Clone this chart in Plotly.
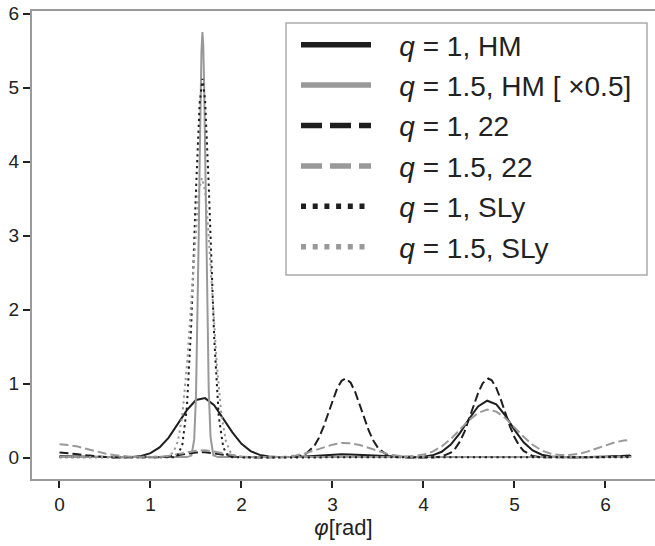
import plotly.graph_objects as go

# ---------------- data ----------------
labels = ["<i>q</i> = 1, HM", "<i>q</i> = 1.5, HM [ ×0.5]", "<i>q</i> = 1, 22",
          "<i>q</i> = 1.5, 22", "<i>q</i> = 1, SLy", "<i>q</i> = 1.5, SLy"]

phi_hm1 = [0.0, 0.1, 0.2, 0.3, 0.4, 0.5, 0.6, 0.7, 0.8, 0.9, 1.0, 1.1, 1.2, 1.3, 1.4, 1.5,
           1.6, 1.7, 1.8, 1.9, 2.0, 2.1, 2.2, 2.3, 2.4, 2.5, 2.6, 2.7, 2.8, 2.9, 3.0, 3.1,
           3.2, 3.3, 3.4, 3.5, 3.6, 3.7, 3.8, 3.9, 4.0, 4.1, 4.2, 4.3, 4.4, 4.5, 4.6, 4.7,
           4.8, 4.9, 5.0, 5.1, 5.2, 5.3, 5.4, 5.5, 5.6, 5.7, 5.8, 5.9, 6.0, 6.1, 6.2, 6.283]
val_hm1 = [0.020, 0.018, 0.014, 0.010, 0.007, 0.005, 0.004, 0.005, 0.010, 0.024, 0.062, 0.139,
           0.272, 0.452, 0.642, 0.780, 0.805, 0.710, 0.533, 0.342, 0.188, 0.089, 0.038, 0.016,
           0.008, 0.007, 0.010, 0.016, 0.025, 0.034, 0.041, 0.045, 0.044, 0.039, 0.031, 0.022,
           0.014, 0.009, 0.006, 0.006, 0.012, 0.032, 0.080, 0.178, 0.332, 0.523, 0.692, 0.770,
           0.721, 0.568, 0.376, 0.209, 0.098, 0.040, 0.015, 0.007, 0.005, 0.007, 0.010, 0.013,
           0.016, 0.019, 0.021, 0.022]

phi_hm15 = [0.0, 0.5, 1.0, 1.4, 1.45, 1.48, 1.50, 1.52, 1.53, 1.54, 1.55, 1.56, 1.571, 1.58,
            1.59, 1.60, 1.61, 1.62, 1.64, 1.66, 1.69, 1.74, 2.5, 3.5, 4.5, 5.5, 6.283]
val_hm15 = [0.008, 0.008, 0.008, 0.008, 0.028, 0.244, 0.830, 2.12, 3.00, 3.97, 4.85, 5.49, 5.75,
            5.57, 5.00, 4.16, 3.20, 2.28, 0.92, 0.28, 0.033, 0.008, 0.008, 0.008, 0.008, 0.008,
            0.008]

phi_221 = [0.0, 0.1, 0.2, 0.3, 0.4, 0.5, 0.6, 0.8, 1.0, 1.1, 1.2, 1.3, 1.4, 1.5, 1.6, 1.7, 1.8,
           1.9, 2.0, 2.2, 2.4, 2.5, 2.6, 2.7, 2.8, 2.85, 2.9, 2.95, 3.0, 3.05, 3.1, 3.142, 3.2,
           3.25, 3.3, 3.35, 3.4, 3.45, 3.5, 3.6, 3.7, 3.8, 4.0, 4.1, 4.2, 4.3, 4.35, 4.4, 4.45,
           4.5, 4.55, 4.6, 4.65, 4.712, 4.75, 4.8, 4.85, 4.9, 4.95, 5.0, 5.05, 5.1, 5.2, 5.3,
           5.5, 5.8, 5.9, 6.0, 6.1, 6.2, 6.283]
val_221 = [0.070, 0.062, 0.047, 0.032, 0.018, 0.009, 0.004, 0.002, 0.002, 0.006, 0.014, 0.030,
           0.052, 0.071, 0.074, 0.061, 0.039, 0.019, 0.008, 0.003, 0.002, 0.003, 0.010, 0.045,
           0.160, 0.267, 0.412, 0.587, 0.770, 0.932, 1.039, 1.070, 1.013, 0.885, 0.712, 0.528,
           0.361, 0.227, 0.132, 0.036, 0.008, 0.003, 0.002, 0.004, 0.016, 0.067, 0.126, 0.218,
           0.349, 0.514, 0.697, 0.872, 1.005, 1.070, 1.045, 0.943, 0.784, 0.601, 0.424, 0.276,
           0.166, 0.092, 0.022, 0.005, 0.002, 0.003, 0.006, 0.011, 0.017, 0.024, 0.030]

phi_2215 = [0.0, 0.1, 0.2, 0.3, 0.4, 0.5, 0.6, 0.7, 0.8, 0.9, 1.0, 1.1, 1.2, 1.3, 1.4, 1.5,
            1.6, 1.7, 1.8, 1.9, 2.0, 2.1, 2.2, 2.3, 2.4, 2.5, 2.6, 2.7, 2.8, 2.9, 3.0, 3.1,
            3.2, 3.3, 3.4, 3.5, 3.6, 3.7, 3.8, 3.9, 4.0, 4.1, 4.2, 4.3, 4.4, 4.5, 4.6, 4.7,
            4.8, 4.9, 5.0, 5.1, 5.2, 5.3, 5.4, 5.5, 5.6, 5.7, 5.8, 5.9, 6.0, 6.1, 6.2, 6.283]
val_2215 = [0.180, 0.172, 0.150, 0.119, 0.086, 0.057, 0.035, 0.019, 0.010, 0.006, 0.006, 0.012,
            0.025, 0.047, 0.074, 0.095, 0.099, 0.084, 0.058, 0.032, 0.015, 0.007, 0.004, 0.004,
            0.007, 0.015, 0.031, 0.058, 0.095, 0.138, 0.176, 0.198, 0.196, 0.171, 0.131, 0.088,
            0.053, 0.029, 0.017, 0.022, 0.042, 0.082, 0.152, 0.253, 0.379, 0.506, 0.606, 0.650,
            0.623, 0.534, 0.410, 0.282, 0.174, 0.097, 0.054, 0.035, 0.036, 0.051, 0.082, 0.122,
            0.166, 0.206, 0.233, 0.240]

phi_sly1 = [0.0, 0.5, 1.0, 1.2, 1.25, 1.3, 1.35, 1.4, 1.45, 1.5, 1.54, 1.571, 1.6, 1.64, 1.7,
            1.75, 1.8, 1.85, 1.9, 2.0, 3.0, 4.0, 5.0, 6.283]
val_sly1 = [0.005, 0.004, 0.004, 0.005, 0.006, 0.034, 0.176, 0.680, 1.86, 3.61, 4.79, 5.12,
            4.83, 3.68, 1.62, 0.557, 0.138, 0.026, 0.006, 0.004, 0.005, 0.004, 0.005, 0.005]

phi_sly15 = [0.0, 0.5, 1.0, 1.1, 1.15, 1.2, 1.25, 1.3, 1.35, 1.4, 1.45, 1.5, 1.53, 1.565, 1.6,
             1.63, 1.68, 1.73, 1.78, 1.83, 1.88, 1.93, 1.98, 2.1, 3.0, 4.0, 5.0, 6.283]
val_sly15 = [0.010, 0.010, 0.010, 0.010, 0.012, 0.024, 0.072, 0.217, 0.57, 1.24, 2.19, 3.17,
             3.60, 3.78, 3.60, 3.17, 2.19, 1.24, 0.57, 0.217, 0.072, 0.024, 0.012, 0.010, 0.010,
             0.010, 0.010, 0.010]

x_ticks = [0, 1, 2, 3, 4, 5, 6]
y_ticks = [0, 1, 2, 3, 4, 5, 6]

# ---------------- styling ----------------
BLACK = "#1e1e1e"
GRAY = "#999999"
FONT = "Liberation Sans, Arial, sans-serif"
W, H = 655, 546
ML, MR, MT, MB = 32, 0, 11, 67
PW, PH = W - ML - MR, H - MT - MB


def px_x(p):
    return (p - ML) / PW


def px_y(p):
    return (H - MB - p) / PH


series = [
    (phi_hm1, val_hm1, BLACK, "solid", "solid"),
    (phi_hm15, val_hm15, GRAY, "solid", "solid"),
    (phi_221, val_221, BLACK, "9px,4px", "21px,8px"),
    (phi_2215, val_2215, GRAY, "9px,4px", "21px,8px"),
    (phi_sly1, val_sly1, BLACK, "2.3px,3.6px", "5px,6.7px"),
    (phi_sly15, val_sly15, GRAY, "2.3px,3.6px", "5px,6.7px"),
]

fig = go.Figure()
for (xs, ys, col, dash, _), name in zip(series, labels):
    fig.add_trace(go.Scatter(x=xs, y=ys, mode="lines", name=name, showlegend=False,
                             line=dict(color=col, width=2, dash=dash)))

# legend entries (thicker sample lines, as in the reference)
GAP = "\u00a0\u00a0\u00a0"
for i, ((xs, ys, col, _, ldash), name) in enumerate(zip(series, labels)):
    fig.add_trace(go.Scatter(x=[None], y=[None], mode="lines", name=GAP + name,
                             legendgroup=f"g{i}",
                             line=dict(color=col, width=5.5, dash=ldash)))

# legend frame
fig.add_shape(type="rect", xref="paper", yref="paper",
              x0=px_x(286), x1=px_x(647), y0=px_y(275), y1=px_y(23),
              line=dict(color="#aaaaaa", width=1.5), fillcolor="white", layer="below")

fig.update_layout(
    width=W, height=H,
    margin=dict(l=ML, r=MR, t=MT, b=MB),
    paper_bgcolor="white", plot_bgcolor="white",
    font=dict(family=FONT, color="#222222"),
    showlegend=True,
    legend=dict(x=px_x(296), xanchor="left", y=px_y(20), yanchor="top",
                bgcolor="rgba(0,0,0,0)", borderwidth=0,
                font=dict(size=28, family=FONT, color="#222222"),
                itemwidth=70, tracegroupgap=1, traceorder="grouped"),
)
fig.update_xaxes(range=[-0.302, 6.544], tickvals=x_ticks, ticks="outside", ticklen=7,
                 tickwidth=2, tickcolor="#222222", showline=True, linecolor="#9a9a9a",
                 linewidth=2, mirror=True, showgrid=False, zeroline=False,
                 tickfont=dict(size=19, family=FONT, color="#222222"),
                 title=dict(text="<i>φ</i>[rad]", font=dict(size=22, family=FONT, color="#222222"),
                            standoff=4))
fig.update_yaxes(range=[-0.288, 6.036], tickvals=y_ticks, ticks="outside", ticklen=7,
                 tickwidth=2, tickcolor="#222222", showline=True, linecolor="#9a9a9a",
                 linewidth=2, mirror=False, showgrid=False, zeroline=False,
                 tickfont=dict(size=19, family=FONT, color="#222222"))

fig.write_html("out.html")
